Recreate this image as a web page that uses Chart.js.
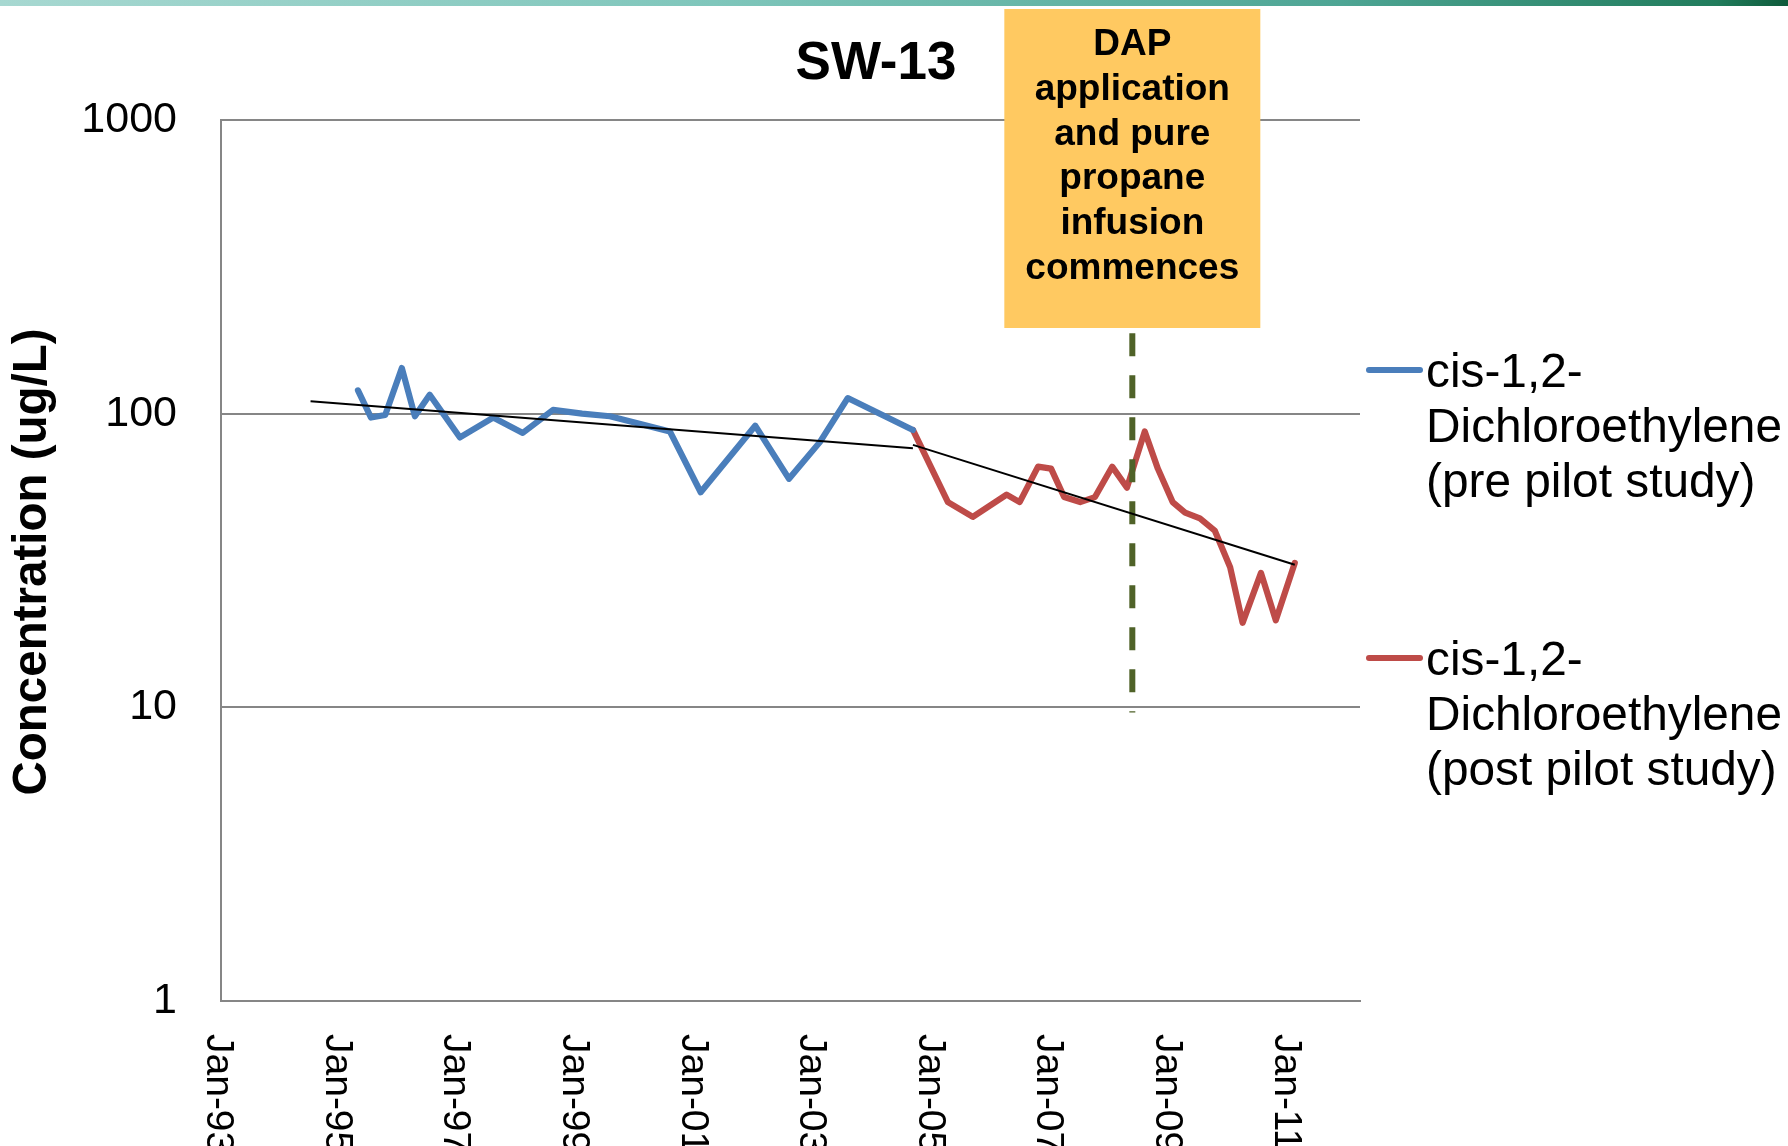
<!DOCTYPE html>
<html>
<head>
<meta charset="utf-8">
<script src="https://cdn.jsdelivr.net/npm/chart.js@4.4.0/dist/chart.umd.min.js"></script>
<style>
  html, body { margin: 0; padding: 0; background: #fff; }
  #wrap { position: relative; width: 1788px; height: 1146px; overflow: hidden; }
  #topbar { position: absolute; left: 0; top: 0; width: 1788px; height: 6px;
    background: linear-gradient(to right, #a7d8d1, #7fc6bb 40%, #4ea594 75%, #217c5c 96%, #0e5a3a); }
</style>
</head>
<body>
<div id="wrap">
  <canvas id="myChart" width="1788" height="1146"></canvas>
  <div id="topbar"></div>
</div>
<script>
// SW-13 cis-1,2-DCE, years as decimal years
const preYears = [1995.31, 1995.53, 1995.77, 1996.05, 1996.27, 1996.52, 1997.03, 1997.59, 1998.09, 1998.60, 1999.09, 1999.56, 2000.57, 2001.09, 2002.01, 2002.58, 2003.10, 2003.57, 2004.67];
const preValues = [120, 97, 99, 143, 98, 116, 83, 97, 86, 103, 100, 98, 87, 54, 91, 60, 80, 113, 88];

const postYears = [2004.67, 2005.26, 2005.68, 2006.25, 2006.47, 2006.78, 2007.00, 2007.22, 2007.49, 2007.74, 2008.03, 2008.28, 2008.58, 2008.80, 2009.05, 2009.26, 2009.51, 2009.76, 2010.02, 2010.23, 2010.54, 2010.79, 2011.11];
const postValues = [88, 50, 44.5, 53, 50, 66, 65, 52, 50, 52, 66, 56, 87, 65, 50, 46, 44, 40, 30, 19.4, 28.7, 19.8, 31];

const preLabel = ['cis-1,2-', 'Dichloroethylene', '(pre pilot study)'];
const postLabel = ['cis-1,2-', 'Dichloroethylene', '(post pilot study)'];

const dapYear = 2008.37;
const dapRange = [188, 9.6];
const dapText = ['DAP', 'application', 'and pure', 'propane', 'infusion', 'commences'];

const xTickYears = [1993, 1995, 1997, 1999, 2001, 2003, 2005, 2007, 2009, 2011];
const xTickLabels = ['Jan-93', 'Jan-95', 'Jan-97', 'Jan-99', 'Jan-01', 'Jan-03', 'Jan-05', 'Jan-07', 'Jan-09', 'Jan-11'];
const yTicks = [1, 10, 100, 1000];

const FONT = "'Liberation Sans', Arial, sans-serif";

// exponential trend (straight on log axis)
function logFit(xs, ys) {
  const n = xs.length;
  const mx = xs.reduce((a, b) => a + b, 0) / n;
  const ly = ys.map(v => Math.log10(v));
  const my = ly.reduce((a, b) => a + b, 0) / n;
  let sxy = 0, sxx = 0;
  for (let i = 0; i < n; i++) {
    sxy += (xs[i] - mx) * (ly[i] - my);
    sxx += (xs[i] - mx) * (xs[i] - mx);
  }
  const b = sxy / sxx;
  return x => Math.pow(10, my + b * (x - mx));
}

const preFit = logFit(preYears, preValues);
const postFit = logFit(postYears, postValues);
const preStart = preYears[0] - 0.8;
const preEnd = preYears[preYears.length - 1];
const postStart = postYears[0];
const postEnd = postYears[postYears.length - 1];

const overlay = {
  id: 'overlay',
  afterDraw(chart) {
    const ctx = chart.ctx;
    const xs = chart.scales.x;

    // x tick labels, turned clockwise
    ctx.save();
    ctx.fillStyle = '#000';
    ctx.font = '39px ' + FONT;
    ctx.textAlign = 'left';
    ctx.textBaseline = 'middle';
    xTickYears.forEach((yr, i) => {
      ctx.save();
      ctx.translate(xs.getPixelForValue(yr) - 3, 1034);
      ctx.rotate(Math.PI / 2);
      ctx.fillText(xTickLabels[i], 0, 0);
      ctx.restore();
    });
    ctx.restore();

    // y axis title
    ctx.save();
    ctx.fillStyle = '#000';
    ctx.font = 'bold 47.5px ' + FONT;
    ctx.textAlign = 'center';
    ctx.textBaseline = 'middle';
    ctx.translate(33, 562);
    ctx.rotate(-Math.PI / 2);
    ctx.fillText('Concentration (ug/L)', 0, 0);
    ctx.restore();

    // chart title
    ctx.save();
    ctx.fillStyle = '#000';
    ctx.font = 'bold 53px ' + FONT;
    ctx.textAlign = 'center';
    ctx.textBaseline = 'alphabetic';
    ctx.fillText('SW-13', 876, 79);
    ctx.restore();

    // annotation box
    const bx = xs.getPixelForValue(dapYear);
    ctx.save();
    ctx.fillStyle = '#ffc961';
    ctx.fillRect(bx - 128, 9, 256, 319);
    ctx.fillStyle = '#000';
    ctx.font = 'bold 37px ' + FONT;
    ctx.textAlign = 'center';
    ctx.textBaseline = 'alphabetic';
    dapText.forEach((t, i) => ctx.fillText(t, bx, 55 + 44.8 * i));
    ctx.restore();

    // legend
    [preLabel, postLabel].forEach((lines, k) => {
      const ds = chart.data.datasets[k];
      const ly = 370 + 288 * k;
      ctx.save();
      ctx.strokeStyle = ds.borderColor;
      ctx.lineWidth = 6;
      ctx.lineCap = 'round';
      ctx.beginPath();
      ctx.moveTo(1369, ly);
      ctx.lineTo(1420, ly);
      ctx.stroke();
      ctx.fillStyle = '#000';
      ctx.font = '47.8px ' + FONT;
      ctx.textAlign = 'left';
      ctx.textBaseline = 'alphabetic';
      lines.forEach((t, j) => ctx.fillText(t, 1426, ly + 17 + 55 * j));
      ctx.restore();
    });
  }
};

const ctx = document.getElementById('myChart');

new Chart(ctx, {
  type: 'line',
  data: {
    datasets: [{
      label: preLabel.join(''),
      data: preYears.map((x, i) => ({ x: x, y: preValues[i] })),
      borderColor: '#4a7ebb',
      borderWidth: 6.2,
      pointRadius: 0,
      tension: 0,
      borderJoinStyle: 'round',
      borderCapStyle: 'round',
      order: 3
    }, {
      label: postLabel.join(''),
      data: postYears.map((x, i) => ({ x: x, y: postValues[i] })),
      borderColor: '#be4b48',
      borderWidth: 6.2,
      pointRadius: 0,
      tension: 0,
      borderJoinStyle: 'round',
      borderCapStyle: 'round',
      order: 3
    }, {
      label: 'DAP start',
      data: [{ x: dapYear, y: dapRange[0] }, { x: dapYear, y: dapRange[1] }],
      borderColor: '#4f6228',
      borderWidth: 6,
      borderDash: [23, 19],
      pointRadius: 0,
      order: 2
    }, {
      label: 'trend pre',
      data: [{ x: preStart, y: preFit(preStart) }, { x: preEnd, y: preFit(preEnd) }],
      borderColor: '#000',
      borderWidth: 2,
      pointRadius: 0,
      order: 1
    }, {
      label: 'trend post',
      data: [{ x: postStart, y: postFit(postStart) }, { x: postEnd, y: postFit(postEnd) }],
      borderColor: '#000',
      borderWidth: 2,
      pointRadius: 0,
      order: 1
    }]
  },
  options: {
    responsive: false,
    animation: false,
    layout: { padding: { top: 120, right: 428, bottom: 0, left: 0 } },
    plugins: {
      legend: { display: false },
      tooltip: { enabled: false },
      title: { display: false }
    },
    scales: {
      x: {
        type: 'linear',
        min: 1993,
        max: 2012.21,
        grid: { display: false, drawTicks: false },
        border: { color: '#868686', width: 2 },
        ticks: { display: false },
        afterFit: s => { s.height = 145; }
      },
      y: {
        type: 'logarithmic',
        min: 1,
        max: 1000,
        afterBuildTicks: s => { s.ticks = yTicks.map(v => ({ value: v })); },
        ticks: {
          callback: v => String(v),
          font: { family: FONT, size: 43 },
          color: '#000',
          padding: 44
        },
        grid: { color: '#868686', lineWidth: 2, drawTicks: false },
        border: { color: '#868686', width: 2 },
        afterFit: s => { s.width = 221; }
      }
    }
  },
  plugins: [overlay]
});
</script>
</body>
</html>
